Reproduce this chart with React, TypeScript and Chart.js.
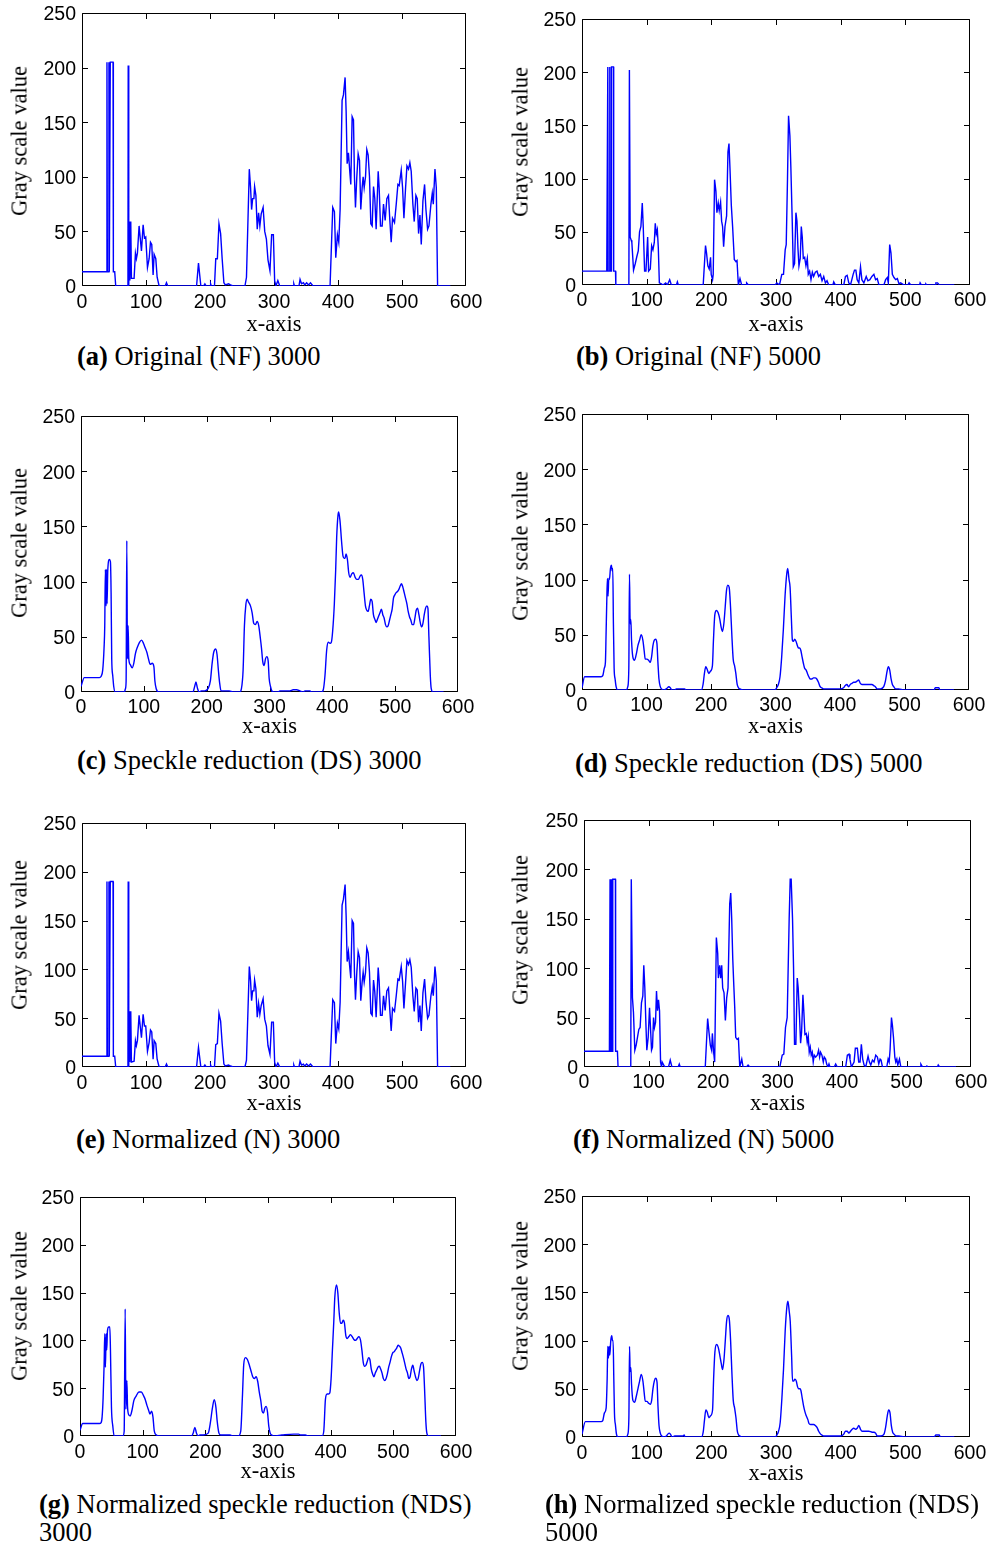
import React, { useEffect, useRef } from 'react';
import { Chart, registerables } from 'chart.js';

Chart.register(...registerables);

type Pt = [number, number];

// ---- tick labels ----
const X_TICKS = [0, 100, 200, 300, 400, 500, 600];
const Y_TICKS = [0, 50, 100, 150, 200, 250];

// ---- series (x position, gray scale value) ----
const NF3000: Pt[] = [[0,13],[38.5,13],[39,205],[39.6,13],[41.6,13],[42.1,205],[42.7,13],[43.6,13],[44.2,205],[48.5,205],[49,13],[51.1,13],[52.7,0],[71.8,0],[72.2,202],[72.8,202],[73.3,0],[74.1,59],[74.8,5],[76.2,59],[77.2,7],[81.4,7],[83.5,30],[85,25],[86.6,30],[89.2,55],[92.9,32],[95.5,56],[97.6,44],[99.6,45],[102.3,17],[104.9,25],[107,40],[109,38],[111.1,10],[112.7,29],[115.3,25],[117.4,8],[120.5,0],[130,0],[132,3],[134,0],[179,0],[182,21],[185.7,0],[190,0],[192,2],[194,0],[200,0],[201,2],[202,0],[207,0],[209,25],[211.5,25],[214,57],[216.6,48],[219,25],[221.7,3],[224,1],[229,2],[232,1],[236,0],[254.6,0],[257,8],[261.4,107],[263.4,90],[265,70],[266.6,80],[268.6,80],[269.7,91],[271.7,83],[273.8,52],[275.9,67],[277.9,55],[280,66],[283,72],[285.5,50],[288.1,43],[290.6,24],[293.7,14],[296.3,47],[299,47],[301,5],[303,0],[306,5],[309,0],[330,0],[331,2],[332,0],[339,0],[340.7,6],[343,2],[346,3],[348,1],[351,3],[354,1],[357,3],[361,0],[387.6,0],[391.8,72],[394.4,68],[396.5,26],[399.1,47],[401.2,40],[403.3,70],[406.4,170],[408.5,175],[411.1,191],[412.7,160],[414.3,112],[416.3,122],[418.4,105],[420,93],[422.1,155],[424.2,152],[425.7,100],[427.3,72],[429.4,100],[431.5,121],[433.6,115],[435.6,70],[437.7,90],[439.3,100],[440.9,90],[443,100],[445,125],[447.1,120],[449.2,100],[451.3,57],[453.4,55],[455.5,91],[457.5,80],[459.6,52],[462.8,105],[464.3,90],[466.4,55],[469,55],[471.1,75],[473.7,60],[476.3,80],[478.9,83],[481,60],[483.1,40],[485.2,62],[488.3,58],[491,75],[493.6,93],[495.6,92],[498.8,106],[500.9,90],[503,62],[505.6,90],[507.7,110],[510.2,107],[512.3,113],[514.4,105],[517,75],[519.1,59],[521.7,83],[523.8,80],[525.9,48],[528,65],[530.1,38],[532.7,78],[535.3,93],[537.4,70],[540,52],[542.1,55],[545.2,75],[547.3,85],[548.9,75],[551.5,107],[553.6,90],[555.6,0],[575.5,0]];

const NF5000: Pt[] = [[0,13],[38.3,13],[39.9,205],[40.4,13],[42.5,13],[43,205],[43.5,13],[45,13],[45.6,205],[48.7,205],[49,13],[51.8,13],[52.3,0],[72.5,0],[73.3,202],[73.9,202],[74.5,45],[76.1,42],[77.1,40],[79.7,14],[82.3,20],[84.9,27],[87,32],[89,50],[91.1,55],[93.2,77],[94.7,55],[96.8,13],[98.9,13],[101.5,45],[103,13],[105.6,15],[107.7,37],[109.7,33],[111.8,40],[113.3,58],[114.9,48],[116.5,52],[118,35],[119.6,2],[122.7,1],[125.3,0],[129.4,2],[132,0],[135.6,5],[138.2,0],[146,0],[147.5,3],[149,0],[187.4,0],[191,37],[192.6,30],[194.6,18],[196.7,15],[198.8,26],[199.8,10],[201.9,5],[202.9,10],[205,99],[207.1,88],[208.6,68],[210.7,77],[212.2,70],[214.3,78],[215.9,60],[217.4,55],[219,36],[221.1,55],[223.6,65],[225.7,125],[227.3,133],[228.8,110],[230.9,75],[232.9,55],[235.5,24],[238.1,22],[239.7,23],[241.8,0],[244.3,6],[246.9,0],[254,0],[254.6,2],[257.3,0],[298.7,0],[301.3,2],[305.4,0],[309,10],[311.6,10],[314.2,33],[315.8,38],[317.8,100],[319.4,159],[321.5,140],[323,110],[325.1,60],[326.7,17],[328.7,20],[330.8,68],[332.4,60],[333.9,35],[335.5,18],[337.5,25],[339.1,55],[340.6,45],[342.2,25],[344.3,26],[346.3,18],[348.4,25],[349.9,10],[352,13],[354.1,5],[356.2,12],[358.2,8],[360.8,12],[363.4,13],[366,8],[368.6,10],[371.2,4],[373.8,8],[376.4,2],[378.9,4],[381.5,0],[388,0],[389.3,3],[391.9,0],[404.8,0],[407.4,8],[410,9],[412.6,2],[415.2,0],[419.3,10],[421.4,14],[423.5,14],[425.5,5],[428.1,2],[430.7,17],[432.8,5],[435.9,2],[439.5,8],[442.1,4],[445.2,5],[448.3,8],[451.4,10],[454,5],[456.6,6],[459.2,0],[466.9,0],[469.5,5],[472.1,7],[473.7,2],[475.8,38],[477.8,30],[479.9,10],[482.5,7],[485.1,5],[487.7,6],[490.2,1],[492.8,2],[498,0],[504,0],[505.8,2],[508.4,0],[522,0],[522.9,2],[524.9,0],[531,0],[531.7,1],[533,0],[546,0],[547.2,2],[549.8,2],[552.4,0],[575.7,0]];

const DS3000: Pt[] = [[0,5],[5.3,13],[29.3,13],[31.9,14],[34.6,20],[36.7,40],[37.8,60],[38.8,111],[39.9,78],[40.9,111],[41.5,80],[42.6,110],[45.2,120],[46.8,118],[47.9,90],[48.9,30],[50.5,15],[52.1,5],[54.3,0],[69.1,0],[70.7,3],[71.8,10],[72.9,137],[73.9,30],[75,60],[76.1,30],[78.2,25],[81.4,22],[84,26],[86.7,35],[89.4,40],[93.1,45],[96.3,47],[99.5,44],[102.1,40],[104.8,36],[107.4,30],[110.1,25],[113.3,26],[116,23],[117.6,10],[119.7,3],[123.9,0],[178.2,0],[180.9,5],[183,9],[185.1,4],[187.8,0],[191.5,1],[196.8,1],[202.1,3],[205.9,10],[208.5,25],[211.2,36],[214.4,39],[216.5,34],[218.6,20],[220.7,8],[222.9,1],[236,1],[241.5,0],[252.7,0],[255.3,3],[258,20],[260.1,60],[262.2,78],[264.4,84],[266.1,82],[269.7,78],[272.3,72],[275,62],[277.7,61],[280.3,64],[282.9,60],[285.6,48],[287.2,40],[289.4,27],[291.5,24],[293.6,30],[295.7,32],[297.9,28],[299.5,12],[301.6,5],[303.7,1],[306.9,0],[313.8,0],[316.5,1],[332.4,1],[337.8,2],[343.1,2],[348.4,1],[353.7,0],[356.4,1],[364.4,1],[367,0],[383,0],[385.6,2],[388.3,15],[391,38],[393.6,45],[396.3,44],[398.4,45],[400.5,55],[403.2,80],[405.3,110],[406.9,140],[409,160],[410.1,163],[412.2,155],[414.9,135],[417,123],[419.1,121],[420.2,121],[421.8,125],[424,120],[426.1,108],[428.2,104],[430.9,107],[433.5,108],[436.2,104],[438.8,102],[441.5,102],[444.1,105],[446.3,106],[448.4,102],[450.5,90],[452.7,78],[454.8,74],[456.9,73],[459,78],[461.2,84],[463.3,82],[465.4,70],[467.6,66],[469.7,63],[471.8,66],[473.9,69],[476,72],[478.2,75],[480.3,70],[482.4,67],[484.6,61],[486.7,59],[488.8,60],[491,65],[493.1,70],[495.2,75],[497.3,85],[499.5,88],[501.6,90],[503.7,91],[505.9,93],[508,96],[510.1,98],[512.2,95],[514.4,90],[516.5,85],[518.6,80],[520.7,73],[522.9,68],[525,65],[527.1,61],[529.3,61],[531.4,67],[533.5,74],[535.6,76],[537.8,70],[539.9,63],[542,59],[544.1,62],[546.3,70],[548.4,76],[550.5,78],[552.1,76],[553.7,50],[555.9,15],[557.4,3],[560.1,0],[577,0]];

const DS5000: Pt[] = [[0,2],[4.1,12],[29.6,12],[32.2,13],[34.7,20],[36.3,25],[37.3,50],[38.4,80],[39.4,101],[40.4,85],[41.5,101],[42.5,100],[44.1,110],[45.6,113],[46.7,108],[47.7,110],[48.7,60],[49.8,20],[51.3,10],[52.9,3],[55.5,0],[68.5,0],[71,3],[72.6,20],[73.6,105],[74.7,60],[75.7,64],[76.8,45],[78.8,30],[81.4,27],[84,32],[86.6,40],[89.2,45],[91.8,50],[94.4,45],[96.5,35],[98,28],[100.6,28],[103.2,27],[105.8,25],[107.9,30],[109.9,40],[112,45],[114.1,46],[116.2,42],[117.7,25],[119.3,10],[121.4,3],[123.4,1],[126.5,0],[130.7,1],[134.8,3],[136.9,2],[139.5,0],[143.6,0],[146.2,1],[159.2,1],[160.8,0],[185.1,0],[187.7,5],[189.8,15],[191.9,21],[193.9,19],[196.5,15],[199.1,17],[202.2,22],[203.8,45],[205.9,68],[208.5,72],[211.1,70],[213.7,64],[215.7,57],[217.8,53],[219.9,60],[222,75],[224,90],[226.1,95],[228.2,93],[230.3,75],[232.3,50],[234.4,28],[236.5,22],[238.5,15],[240.6,5],[242.7,2],[244.8,1],[250,0],[299.2,0],[301.8,2],[304.4,5],[307,12],[309.6,30],[312.2,55],[314.8,85],[317.4,105],[318.9,110],[321,100],[322.6,93],[324.6,65],[326.2,45],[327.7,44],[329.8,46],[331.9,44],[334,40],[335.5,38],[337.6,38],[339.2,36],[341.2,30],[343.3,24],[345,20],[347.5,18],[349.5,15],[351.7,12],[353.7,10],[356.3,10],[358.9,11],[361.5,11],[364,10],[366.6,7],[369.2,3],[371.8,2],[374.4,1],[390,1],[400.4,1],[405.5,2],[408.1,4],[410.7,5],[413.3,3],[415.9,5],[418.5,6],[421.1,7],[423.7,7],[426.3,8],[428.9,9],[431.5,6],[434,5],[439.2,5],[444.4,5],[449.6,5],[452.2,4],[454.8,3],[457.4,1],[462.6,1],[467.8,3],[470.4,8],[473,17],[475,21],[477.1,18],[479.2,10],[481.2,5],[483.3,3],[486.4,1],[491.1,1],[498.9,0],[545.5,0],[548.1,2],[553.3,2],[554.9,0],[576.7,0]];

const N3000: Pt[] = [[0,11],[38.5,11],[39,190],[39.6,11],[41.6,11],[42.1,190],[42.7,11],[43.6,11],[44.2,190],[48.5,190],[49,11],[51.1,11],[52.7,0],[71.8,0],[72.2,190],[72.8,190],[73.3,0],[74.1,57],[74.8,5],[76.2,57],[77.2,5],[81.4,6],[83.5,27],[85,22],[86.6,27],[89.2,53],[92.9,30],[95.5,54],[97.6,42],[99.6,42],[102.3,16],[104.9,25],[107,38],[109,36],[111.1,8],[112.7,27],[115.3,24],[117.4,8],[120.5,0],[130,0],[132,3],[134,0],[179,0],[182,20],[185.7,0],[190,0],[192,2],[194,0],[200,0],[201,2],[202,0],[207,0],[209,23],[211.5,24],[214,55],[216.6,47],[219,24],[221.7,3],[224,1],[229,2],[232,1],[236,0],[254.6,0],[257,7],[261.4,103],[263.4,88],[265,68],[266.6,78],[268.6,78],[269.7,89],[271.7,80],[273.8,51],[275.9,65],[277.9,54],[280,63],[283,70],[285.5,49],[288.1,42],[290.6,22],[293.7,13],[296.3,46],[299,46],[301,5],[303,0],[306,4],[309,0],[330,0],[331,2],[332,0],[339,0],[340.7,6],[343,2],[346,3],[348,1],[351,3],[354,1],[357,3],[361,0],[387.6,0],[391.8,69],[394.4,66],[396.5,24],[399.1,45],[401.2,39],[403.3,66],[406.4,166],[408.5,172],[411.1,187],[412.7,155],[414.3,108],[416.3,118],[418.4,102],[420,91],[422.1,150],[424.2,147],[425.7,97],[427.3,69],[429.4,97],[431.5,118],[433.6,112],[435.6,68],[437.7,87],[439.3,97],[440.9,87],[443,97],[445,122],[447.1,117],[449.2,97],[451.3,55],[453.4,53],[455.5,89],[457.5,77],[459.6,51],[462.8,102],[464.3,88],[466.4,53],[469,53],[471.1,73],[473.7,58],[476.3,78],[478.9,81],[481,58],[483.1,37],[485.2,60],[488.3,57],[491,73],[493.6,90],[495.6,89],[498.8,103],[500.9,88],[503,60],[505.6,87],[507.7,109],[510.2,105],[512.3,110],[514.4,102],[517,73],[519.1,57],[521.7,81],[523.8,79],[525.9,46],[528,63],[530.1,37],[532.7,76],[535.3,90],[537.4,68],[540,50],[542.1,53],[545.2,73],[547.3,82],[548.9,73],[551.5,103],[553.6,88],[555.6,0],[575.5,0]];

const N5000: Pt[] = [[0,16],[39.4,16],[40.4,190],[41,16],[42,16],[42.5,190],[43,16],[44,16],[44.6,190],[48.7,190],[49,16],[51.8,16],[52.8,0],[72.5,0],[73.3,190],[73.9,190],[75.1,70],[76.7,55],[78.8,17],[80.8,22],[82.9,30],[85,38],[87,40],[89.1,65],[91.2,72],[92.7,103],[94.3,80],[95.9,45],[97.4,17],[99.5,30],[101.6,60],[103.1,40],[104.7,17],[106.2,20],[107.8,50],[109.3,40],[110.9,45],[112.4,77],[114,57],[115.5,68],[117.1,57],[118.7,5],[120.2,0],[121.2,5],[124.4,1],[126.9,0],[131,0],[133.7,7],[136.3,0],[146,0],[147.7,3],[149.2,0],[188,0],[191.7,49],[193.8,35],[195.9,22],[197.9,17],[199,34],[201,15],[202.6,5],[205.2,131],[207.3,115],[208.3,90],[210.4,103],[211.9,90],[213.5,103],[215,80],[217.1,75],[219.2,47],[221.2,70],[223.3,80],[225.9,165],[227.5,176],[229,150],[230.6,110],[232.1,85],[233.7,60],[235.2,30],[237.3,28],[239.4,29],[241.5,0],[244.6,8],[246.6,0],[252,0],[254.4,2],[257,0],[300.5,0],[303.6,0],[307.3,12],[309.8,13],[312.4,40],[315,50],[318.1,150],[319.7,190],[321.2,190],[323.3,150],[324.9,100],[326.4,23],[328.5,23],[330.6,90],[332.1,80],[334.2,50],[335.8,24],[337.3,35],[339.4,73],[340.9,55],[342.5,33],[344.6,34],[346.1,25],[347.7,31],[349.2,15],[350.8,20],[352.3,12],[353.9,15],[355.4,5],[357,12],[359.1,10],[361.7,12],[363.7,17],[365.3,10],[366.8,15],[368.9,12],[371,5],[372.5,10],[374.6,8],[376.2,3],[378.2,0],[379.8,3],[381.3,0],[388,0],[390.2,3],[392.7,0],[405.7,0],[408.3,12],[410.9,13],[412.4,8],[414.5,0],[418.7,5],[420.7,19],[423.8,19],[425.9,5],[428,5],[430,23],[432.1,8],[434.2,2],[436.8,0],[440.4,11],[442.5,5],[444.6,2],[447.2,7],[449.7,5],[452.3,12],[454.9,10],[457,3],[459.1,8],[460.6,7],[462.7,0],[469.4,0],[471.5,8],[473.1,5],[474.6,18],[476.7,50],[478.2,42],[479.8,30],[481.9,10],[483.4,5],[485,8],[486.5,2],[489.1,8],[491.2,0],[506.7,0],[521,0],[522.3,3],[524.9,0],[530,0],[531.6,1],[533,0],[548,0],[549.2,2],[551.3,0],[576.7,0]];

const NDS3000: Pt[] = [[0,6],[4.3,13],[31,13],[33.7,14],[35.3,20],[36.9,40],[38.5,75],[39.5,107],[40.6,72],[41.7,107],[42.7,90],[43.8,110],[45.9,114],[47.6,114],[48.6,90],[50.2,30],[52.4,10],[54.5,0],[68.4,0],[70.5,5],[72.1,133],[73.2,28],[74.8,58],[75.9,30],[78,22],[80.1,21],[83.3,28],[85.9,37],[89.8,42],[94,46],[97.8,46],[101.5,42],[104.2,38],[106.8,32],[109.5,27],[111.6,23],[114.3,26],[116.4,20],[118.6,5],[121.8,1],[126,0],[178,0],[180.6,3],[183.3,9],[185.9,3],[188.6,0],[191.3,1],[196.6,1],[204.6,3],[208.3,15],[211,28],[214.2,38],[216.9,30],[219,15],[221.7,3],[224.4,1],[239.4,1],[244.7,0],[252.7,0],[256.5,5],[259.1,40],[261.3,75],[263.9,82],[267.1,80],[270.3,74],[272.9,68],[275.6,62],[278.3,60],[281,62],[283.6,57],[286.3,45],[288.5,37],[290.6,26],[292.7,24],[294.9,29],[297,31],[299.2,25],[301.3,10],[303.5,3],[306.1,1],[308.8,0],[322.2,1],[340.9,2],[348.9,2],[351.6,1],[359.6,1],[364.9,0],[386.3,0],[389,5],[391.6,38],[394.3,44],[396.5,44],[398.6,45],[400.7,60],[402.8,90],[405,120],[406.6,145],[409.3,158],[411.4,150],[413.5,130],[415.7,118],[417.8,118],[419.9,121],[422,118],[424.2,105],[426.3,102],[429,104],[431.6,106],[434.3,104],[437,101],[439.7,100],[442.4,102],[445,104],[447.7,100],[449.8,90],[452,77],[454.1,73],[456.3,74],[458.4,78],[460.5,82],[462.6,80],[464.8,70],[466.9,65],[469.1,62],[471.2,66],[473.4,69],[475.5,72],[477.6,73],[479.8,70],[481.9,66],[484.1,60],[486.2,58],[488.3,60],[490.5,65],[492.6,72],[494.7,77],[496.9,83],[499,87],[501.2,88],[503.3,90],[505.4,92],[507.6,95],[509.7,94],[511.8,92],[514,87],[516.1,82],[518.3,76],[520.4,70],[522.5,66],[524.7,60],[526.8,62],[528.9,70],[531.1,74],[533.2,68],[535.4,62],[537.5,58],[539.6,60],[541.8,68],[543.9,75],[546,77],[548.2,72],[549.8,50],[551.9,15],[553.5,3],[556.2,0],[576,0]];

const NDS5000: Pt[] = [[0,3],[5.2,16],[29.5,16],[32.1,17],[34.7,25],[37.3,30],[38.9,60],[39.9,94],[40.9,82],[41.9,94],[43,85],[44.5,100],[46.1,105],[47.1,100],[48.1,100],[49.2,60],[50.2,25],[51.8,12],[53.3,3],[55.9,0],[68.3,0],[70.9,3],[72.5,20],[73.5,94],[74.5,68],[75.6,72],[76.6,55],[78.7,38],[81.3,36],[83.9,42],[86.5,50],[89.1,58],[91.6,65],[94.2,58],[96.3,45],[97.8,37],[100.4,37],[103,35],[105.6,34],[107.7,38],[109.7,50],[111.8,58],[113.9,61],[116,57],[117.5,32],[119.1,12],[121.1,4],[123.2,1],[127.9,0],[130.5,1],[134.6,4],[136.7,3],[139.3,0],[143.4,1],[156.3,1],[157.9,2],[159.4,0],[184.8,0],[187.4,5],[189.5,18],[191.5,28],[193.6,26],[196.2,20],[198.8,22],[201.9,28],[203.5,60],[205.5,88],[208.1,96],[210.7,93],[213.3,84],[215.4,76],[217.4,70],[219.5,80],[221.6,100],[223.6,120],[225.7,126],[227.8,122],[229.8,100],[231.9,65],[233.9,38],[236,30],[238.1,20],[240.2,6],[242.3,2],[244.3,1],[249.5,0],[298.7,0],[301.3,2],[303.9,6],[306.5,15],[309.1,40],[311.6,70],[314.2,110],[316.8,135],[318.4,141],[320.5,130],[322,120],[324.1,85],[325.6,58],[327.2,58],[329.2,60],[331.3,58],[333.4,52],[334.9,50],[337,50],[338.6,48],[340.6,40],[342.7,32],[344.8,26],[346.8,22],[349.3,18],[351,14],[353.5,13],[355.7,13],[358.2,13],[360.8,12],[363.4,10],[366,6],[369,3],[371.2,2],[373.8,1],[389.3,1],[399.7,1],[404.8,3],[407.4,6],[410,6],[412.6,4],[415.2,6],[417.8,8],[420.4,9],[423,8],[425.5,9],[428.1,12],[430.7,8],[433.3,6],[438.5,6],[443.6,6],[448.8,5],[451.4,5],[454,4],[456.6,1],[461.8,1],[467,3],[469.5,10],[472.1,22],[474.2,28],[476.3,25],[478.3,12],[480.4,5],[482.5,3],[485.6,1],[490.2,1],[498,0],[544.6,0],[547.2,2],[552.4,2],[554,0],[575.7,0]];

// ---- layout / style ----
const SANS = '"Liberation Sans", Arial, Helvetica, sans-serif';
const SERIF = '"Liberation Serif", "Times New Roman", Times, serif';
const TICK_SIZE = 19.5;
const TITLE_SIZE = 22.5;
const TITLE_LH = TITLE_SIZE * 1.2;
const CAP_SIZE = 26.5;
const CAP_LH = 28.7;
const YW = 60;
const PT = 22;
const PR = 35;
const TICK_LEN = 5.5;

interface PanelSpec {
  data: Pt[];
  smooth: boolean;
  l: number; t: number; r: number; b: number;
  yLabX: number; yLabY: number;
  xTitleMid: number; xPad: number;
  capX: number; capBase: number;
  capTag: string; capText: string; capLine2?: string;
}

const PANELS: PanelSpec[] = [
  { data: NF3000, smooth: false, l: 82, t: 13, r: 466, b: 286, yLabX: 21, yLabY: 141, xTitleMid: 325, xPad: 5, capX: 77, capBase: 365, capTag: '(a)', capText: ' Original (NF) 3000' },
  { data: NF5000, smooth: false, l: 582, t: 19, r: 970, b: 285, yLabX: 522, yLabY: 142, xTitleMid: 325.5, xPad: 4, capX: 576, capBase: 365, capTag: '(b)', capText: ' Original (NF) 5000' },
  { data: DS3000, smooth: true, l: 81, t: 416, r: 458, b: 692, yLabX: 21, yLabY: 543, xTitleMid: 727, xPad: 3.5, capX: 77, capBase: 769, capTag: '(c)', capText: ' Speckle reduction (DS) 3000' },
  { data: DS5000, smooth: true, l: 582, t: 414, r: 969, b: 690, yLabX: 522, yLabY: 546, xTitleMid: 727.5, xPad: 4, capX: 575, capBase: 772.5, capTag: '(d)', capText: ' Speckle reduction (DS) 5000' },
  { data: N3000, smooth: false, l: 82, t: 823, r: 466, b: 1067, yLabX: 21, yLabY: 935, xTitleMid: 1104, xPad: 4.5, capX: 76, capBase: 1148, capTag: '(e)', capText: ' Normalized (N) 3000' },
  { data: N5000, smooth: false, l: 584, t: 820, r: 971, b: 1067, yLabX: 522, yLabY: 930, xTitleMid: 1104, xPad: 3.5, capX: 573, capBase: 1148, capTag: '(f)', capText: ' Normalized (N) 5000' },
  { data: NDS3000, smooth: true, l: 80, t: 1197, r: 456, b: 1436, yLabX: 21, yLabY: 1306, xTitleMid: 1472.5, xPad: 4.5, capX: 39, capBase: 1513, capTag: '(g)', capText: ' Normalized speckle reduction (NDS)', capLine2: '3000' },
  { data: NDS5000, smooth: true, l: 582, t: 1196, r: 970, b: 1437, yLabX: 522, yLabY: 1296, xTitleMid: 1474, xPad: 4.5, capX: 545, capBase: 1513, capTag: '(h)', capText: ' Normalized speckle reduction (NDS)', capLine2: '5000' },
];

const boxPlugin = {
  id: 'matlabBox',
  beforeDatasetsDraw(chart: any) {
    const { ctx, chartArea } = chart;
    const { left, top, right, bottom } = chartArea;
    const xs = chart.scales.x;
    const ys = chart.scales.y;
    ctx.save();
    ctx.strokeStyle = '#000';
    ctx.lineWidth = 1;
    ctx.beginPath();
    ctx.rect(left + 0.5, top + 0.5, right - left - 1, bottom - top - 1);
    ctx.stroke();
    ctx.beginPath();
    xs.ticks.forEach((tk: any) => {
      const px = Math.round(xs.getPixelForValue(tk.value)) + 0.5;
      const p = Math.min(Math.max(px, left + 0.5), right - 0.5);
      ctx.moveTo(p, bottom - 0.5);
      ctx.lineTo(p, bottom - 0.5 - TICK_LEN);
      ctx.moveTo(p, top + 0.5);
      ctx.lineTo(p, top + 0.5 + TICK_LEN);
    });
    ys.ticks.forEach((tk: any) => {
      const py = Math.round(ys.getPixelForValue(tk.value)) + 0.5;
      const p = Math.min(Math.max(py, top + 0.5), bottom - 0.5);
      ctx.moveTo(left + 0.5, p);
      ctx.lineTo(left + 0.5 + TICK_LEN, p);
      ctx.moveTo(right - 0.5, p);
      ctx.lineTo(right - 0.5 - TICK_LEN, p);
    });
    ctx.stroke();
    ctx.restore();
  },
};

function Panel({ spec }: { spec: PanelSpec }) {
  const ref = useRef<HTMLCanvasElement | null>(null);
  const cl = spec.l - YW;
  const ct = spec.t - PT;
  const cw = spec.r - spec.l + YW + PR;
  const hx = Math.ceil(spec.xTitleMid - spec.b + TITLE_LH / 2 + 2);
  const ch = spec.b - spec.t + PT + hx;
  const titlePadBottom = hx - (spec.xTitleMid - spec.b) - TITLE_LH / 2;

  useEffect(() => {
    if (!ref.current) return;
    const chart = new Chart(ref.current, {
      type: 'line',
      data: {
        datasets: [
          {
            data: spec.data.map(([x, y]) => ({ x, y })),
            borderColor: '#0000ff',
            borderWidth: 1.4,
            pointRadius: 0,
            fill: false,
            tension: spec.smooth ? 0.4 : 0,
            cubicInterpolationMode: spec.smooth ? 'monotone' : 'default',
          } as any,
        ],
      },
      options: {
        responsive: false,
        animation: false,
        events: [],
        layout: { padding: { top: PT, right: PR, left: 0, bottom: 0 } },
        plugins: { legend: { display: false }, tooltip: { enabled: false } },
        scales: {
          x: {
            type: 'linear',
            min: X_TICKS[0],
            max: X_TICKS[X_TICKS.length - 1],
            afterBuildTicks: (s: any) => { s.ticks = X_TICKS.map((value) => ({ value })); },
            afterFit: (s: any) => { s.height = hx; },
            ticks: { color: '#000', font: { family: SANS, size: TICK_SIZE }, padding: spec.xPad, maxRotation: 0, autoSkip: false },
            grid: { display: false, drawTicks: false },
            border: { display: false },
            title: { display: true, text: 'x-axis', color: '#000', font: { family: SERIF, size: TITLE_SIZE }, padding: { top: 0, bottom: titlePadBottom } },
          },
          y: {
            type: 'linear',
            min: Y_TICKS[0],
            max: Y_TICKS[Y_TICKS.length - 1],
            afterBuildTicks: (s: any) => { s.ticks = Y_TICKS.map((value) => ({ value })); },
            afterFit: (s: any) => { s.width = YW; },
            ticks: { color: '#000', font: { family: SANS, size: TICK_SIZE }, padding: 6, autoSkip: false, labelOffset: 2 },
            grid: { display: false, drawTicks: false },
            border: { display: false },
          },
        },
      } as any,
      plugins: [boxPlugin],
    });
    return () => chart.destroy();
  }, []);

  const capTop = spec.capBase - (CAP_LH - CAP_SIZE * 1.107) / 2 - CAP_SIZE * 0.891;

  return (
    <>
      <canvas
        ref={ref}
        width={cw}
        height={ch}
        style={{ position: 'absolute', left: cl, top: ct, width: cw, height: ch }}
      />
      <div
        style={{
          position: 'absolute',
          left: spec.yLabX - 2.4,
          top: spec.yLabY,
          transform: 'translate(-50%, -50%) rotate(-90deg)',
          fontFamily: SERIF,
          fontSize: TITLE_SIZE,
          lineHeight: '23px',
          whiteSpace: 'nowrap',
          color: '#000',
        }}
      >
        Gray scale value
      </div>
      <div
        style={{
          position: 'absolute',
          left: spec.capX,
          top: capTop,
          fontFamily: SERIF,
          fontSize: CAP_SIZE,
          lineHeight: CAP_LH + 'px',
          whiteSpace: 'nowrap',
          color: '#000',
        }}
      >
        <b>{spec.capTag}</b>
        {spec.capText}
        {spec.capLine2 ? (
          <>
            <br />
            {spec.capLine2}
          </>
        ) : null}
      </div>
    </>
  );
}

export default function App() {
  return (
    <div style={{ position: 'absolute', left: 0, top: 0, width: 1000, height: 1545, background: '#fff', overflow: 'hidden' }}>
      {PANELS.map((p, i) => (
        <Panel key={i} spec={p} />
      ))}
    </div>
  );
}
